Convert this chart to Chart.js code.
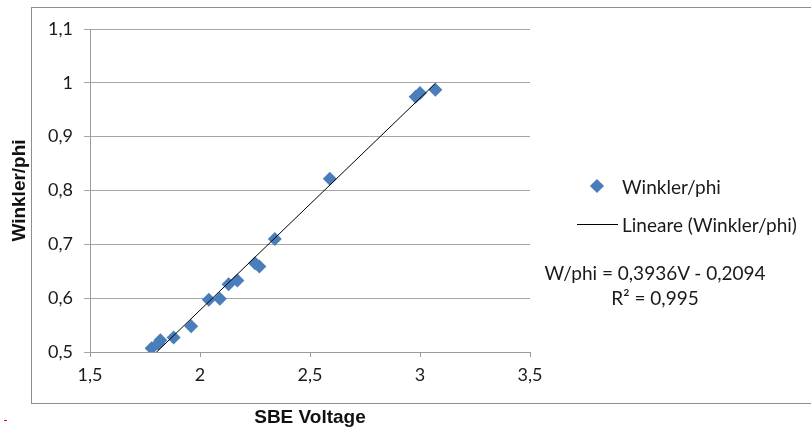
<!DOCTYPE html>
<html lang="it">
  <head>
    <meta charset="UTF-8" />
    <title>Winkler/phi vs SBE Voltage</title>
    <script src="https://cdn.jsdelivr.net/npm/chart.js"></script>
    <style>
      body { margin: 0; background: #fff; }
      #wrap { position: relative; width: 811px; height: 437px; overflow: hidden; }
      #frame {
        position: absolute; left: 31px; top: 7px; width: 800px; height: 395px;
        border: 1px solid #8e8e8e;
      }
      canvas { position: absolute; left: 0; top: 0; }
      .txt { position: absolute; font-family: Lato, "Open Sans", sans-serif; font-size: 19px; color: #1a1a1a; white-space: nowrap; }
      #legend .item { position: absolute; left: 577px; height: 20px; }
      #legend .mark { position: absolute; left: 0; top: 0; width: 41px; height: 20px; }
      #legend .label { position: absolute; left: 45px; top: 0; line-height: 20px; }
      #eq { left: 535px; top: 260px; width: 240px; text-align: center; line-height: 25px; }
      #dash { position: absolute; left: 4px; top: 420px; width: 3px; height: 1px; background: #e00; }
    </style>
  </head>
  <body>
    <div id="wrap">
      <div id="frame"></div>
      <canvas id="chart" width="811" height="437"></canvas>
      <div id="legend"></div>
      <div id="eq" class="txt">W/phi = 0,3936V - 0,2094<br />R² = 0,995</div>
      <div id="dash"></div>
    </div>

    <script>
      const sbeVoltage = [1.78, 1.81, 1.82, 1.88, 1.96, 2.04, 2.09, 2.13, 2.17,
        2.25, 2.27, 2.34, 2.59, 2.98, 3.0, 3.07];
      const winklerPhi = [0.507, 0.516, 0.522, 0.527, 0.548, 0.597, 0.599, 0.626, 0.633,
        0.665, 0.659, 0.710, 0.822, 0.974, 0.981, 0.987];

      // retta di regressione (estremi)
      const trendX = [1.78, 3.07];
      const trendY = [0.491, 0.999];

      const xTicks = [1.5, 2, 2.5, 3, 3.5];
      const xTickLabels = ["1,5", "2", "2,5", "3", "3,5"];
      const yTicks = [0.5, 0.6, 0.7, 0.8, 0.9, 1.0, 1.1];
      const yTickLabels = ["0,5", "0,6", "0,7", "0,8", "0,9", "1", "1,1"];

      const seriesLabel = "Winkler/phi";
      const trendLabel = "Lineare (Winkler/phi)";
      const blue = "#4a7ebb";

      const tickFont = { family: "Lato", size: 18 };
      const titleFont = { family: "Liberation Sans", size: 19, weight: "bold" };

      function useTicks(values) {
        return (scale) => {
          scale.ticks = values.map((v) => ({ value: v }));
        };
      }

      const ctx = document.getElementById("chart").getContext("2d");
      const chart = new Chart(ctx, {
        type: "scatter",
        data: {
          datasets: [
            {
              label: seriesLabel,
              data: sbeVoltage.map((x, i) => ({ x: x, y: winklerPhi[i] })),
              pointStyle: "rectRot",
              pointRadius: 7,
              pointHoverRadius: 7,
              backgroundColor: blue,
              borderWidth: 0,
              order: 2,
            },
            {
              label: trendLabel,
              type: "line",
              data: trendX.map((x, i) => ({ x: x, y: trendY[i] })),
              borderColor: "#000",
              borderWidth: 1,
              pointRadius: 0,
              fill: false,
              order: 1,
            },
          ],
        },
        options: {
          responsive: false,
          animation: false,
          layout: { padding: { top: 29, right: 281, left: 0, bottom: 0 } },
          plugins: { legend: { display: false }, tooltip: { enabled: false } },
          scales: {
            x: {
              type: "linear",
              min: 1.5,
              max: 3.5,
              afterBuildTicks: useTicks(xTicks),
              afterFit: (scale) => { scale.height = 85; },
              ticks: {
                font: tickFont,
                color: "#1a1a1a",
                padding: 7,
                maxRotation: 0,
                callback: (v, i) => xTickLabels[i],
              },
              grid: { drawOnChartArea: false, drawTicks: true, tickLength: 5, color: "#9a9a9a" },
              border: { display: true, color: "#9a9a9a" },
              title: { display: true, text: "SBE Voltage", font: titleFont, color: "#111", padding: 8 },
            },
            y: {
              min: 0.5,
              max: 1.1,
              afterBuildTicks: useTicks(yTicks),
              afterFit: (scale) => { scale.width = 90; },
              ticks: {
                font: tickFont,
                color: "#1a1a1a",
                padding: 11,
                callback: (v, i) => yTickLabels[i],
              },
              grid: { color: "#a6a6a6", tickLength: 6 },
              border: { display: true, color: "#9a9a9a" },
              title: { display: true, text: "Winkler/phi", font: titleFont, color: "#111", padding: 8 },
            },
          },
        },
      });

      // legenda in stile Excel
      const legend = document.getElementById("legend");
      const items = [
        { text: seriesLabel, top: 177, mark: '<div style="position:absolute;left:15px;top:4px;width:10px;height:10px;background:' + blue + ';transform:rotate(45deg)"></div>' },
        { text: trendLabel, top: 215, mark: '<div style="position:absolute;left:0;top:9px;width:41px;height:1px;background:#000"></div>' },
      ];
      items.forEach((it) => {
        const d = document.createElement("div");
        d.className = "item";
        d.style.top = it.top + "px";
        d.innerHTML = '<div class="mark">' + it.mark + '</div><div class="label txt">' + it.text + "</div>";
        legend.appendChild(d);
      });
    </script>
  </body>
</html>
